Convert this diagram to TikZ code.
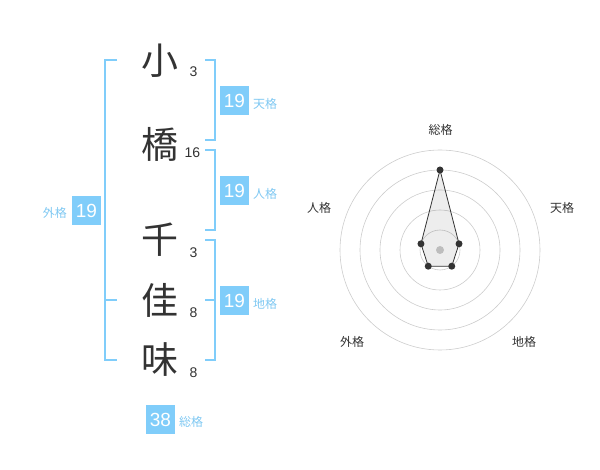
\documentclass[tikz,border=0pt]{standalone}
\usepackage{fontspec}
\usetikzlibrary{calc}
\setmainfont{Liberation Sans}
\newfontfamily\cjk{Noto Sans CJK JP}
\definecolor{boxblue}{HTML}{80CDFA}
\definecolor{lblblue}{HTML}{7FC8F2}
\definecolor{ink}{HTML}{333333}
\definecolor{ringgray}{HTML}{CCCCCC}
\tikzset{
  kanji/.style={font=\cjk\fontsize{37}{37}\selectfont, text=ink, inner sep=0pt},
  strokes/.style={font=\fontsize{14}{14}\selectfont, text=ink, inner sep=0pt},
  numbox/.style={fill=boxblue, text=white, minimum width=29pt, minimum height=29pt, inner sep=0pt, font=\fontsize{19}{19}\selectfont},
  boxlabel/.style={text=lblblue, font=\cjk\fontsize{12}{12}\selectfont, inner sep=0pt},
  bracket/.style={draw=boxblue, line width=1.8pt},
  ring/.style={draw=ringgray, line width=0.6pt},
  radarlabel/.style={text=ink, font=\cjk\fontsize{12}{12}\selectfont, inner sep=0pt},
  vtx/.style={circle, fill=ink, inner sep=0pt, minimum size=7pt},
}
\begin{document}
\begin{tikzpicture}[x=1pt,y=-1pt]
\useasboundingbox (0,0) rectangle (600,470);
% kanji
\node[kanji] (k1) at (160,61) {小};
\node[kanji] (k2) at (160,144) {橋};
\node[kanji] (k3) at (160,240) {千};
\node[kanji] (k4) at (160,300) {佳};
\node[kanji] (k5) at (160,360) {味};
\node[strokes] (s1) at (193.5,72) {3};
\node[strokes] (s2) at (192.5,152.5) {16};
\node[strokes] (s3) at (193.5,252.5) {3};
\node[strokes] (s4) at (193.5,313) {8};
\node[strokes] (s5) at (193.5,373) {8};
% brackets
\coordinate (L1) at (117,60); \coordinate (L2) at (105,60);
\coordinate (L3) at (105,360); \coordinate (L4) at (117,360);
\coordinate (Lm1) at (105,300); \coordinate (Lm2) at (117,300);
\draw[bracket] (L1) -- (L2) -- (L3) -- (L4);
\draw[bracket] (Lm1) -- (Lm2);
\coordinate (a1) at (205,60); \coordinate (a2) at (215,60);
\coordinate (a3) at (215,140); \coordinate (a4) at (205,140);
\draw[bracket] (a1) -- (a2) -- (a3) -- (a4);
\coordinate (b1) at (205,150); \coordinate (b2) at (215,150);
\coordinate (b3) at (215,230); \coordinate (b4) at (205,230);
\draw[bracket] (b1) -- (b2) -- (b3) -- (b4);
\coordinate (c1) at (205,240); \coordinate (c2) at (215,240);
\coordinate (c3) at (215,360); \coordinate (c4) at (205,360);
\coordinate (cm1) at (205,300); \coordinate (cm2) at (215,300);
\draw[bracket] (c1) -- (c2) -- (c3) -- (c4);
\draw[bracket] (cm1) -- (cm2);
% boxes
\node[numbox] (ten) at (234.5,100.5) {19};
\node[boxlabel, anchor=west] (tenl) at (253,104) {天格};
\node[numbox] (jin) at (234.5,190.5) {19};
\node[boxlabel, anchor=west] (jinl) at (253,194) {人格};
\node[numbox] (chi) at (234.5,300.5) {19};
\node[boxlabel, anchor=west] (chil) at (253,304) {地格};
\node[numbox] (gai) at (86.5,211) {19};
\node[boxlabel, anchor=east] (gail) at (67,213) {外格};
\node[numbox] (sou) at (160.5,419.5) {38};
\node[boxlabel, anchor=west] (soul) at (179,422) {総格};
% radar
\coordinate (ctr) at (440,250);
\foreach \r in {20,40,60,80,100} \draw[ring] (ctr) circle[radius=\r];
\fill[ringgray] (ctr) circle[radius=4];
\coordinate (p1) at ($(ctr)+(0,-80)$);
\coordinate (p2) at ($(ctr)+(19.02,-6.18)$);
\coordinate (p3) at ($(ctr)+(11.76,16.18)$);
\coordinate (p4) at ($(ctr)+(-11.76,16.18)$);
\coordinate (p5) at ($(ctr)+(-19.02,-6.18)$);
\filldraw[fill=black, fill opacity=0.07, draw=ink, line width=0.8pt] (p1) -- (p2) -- (p3) -- (p4) -- (p5) -- cycle;
\foreach \p in {p1,p2,p3,p4,p5} \node[vtx] at (\p) {};
\node[radarlabel] (rl1) at (440.5,130) {総格};
\node[radarlabel] (rl2) at (562,208) {天格};
\node[radarlabel] (rl3) at (524,342) {地格};
\node[radarlabel] (rl4) at (352,342) {外格};
\node[radarlabel] (rl5) at (319,208) {人格};
\end{tikzpicture}
\end{document}
